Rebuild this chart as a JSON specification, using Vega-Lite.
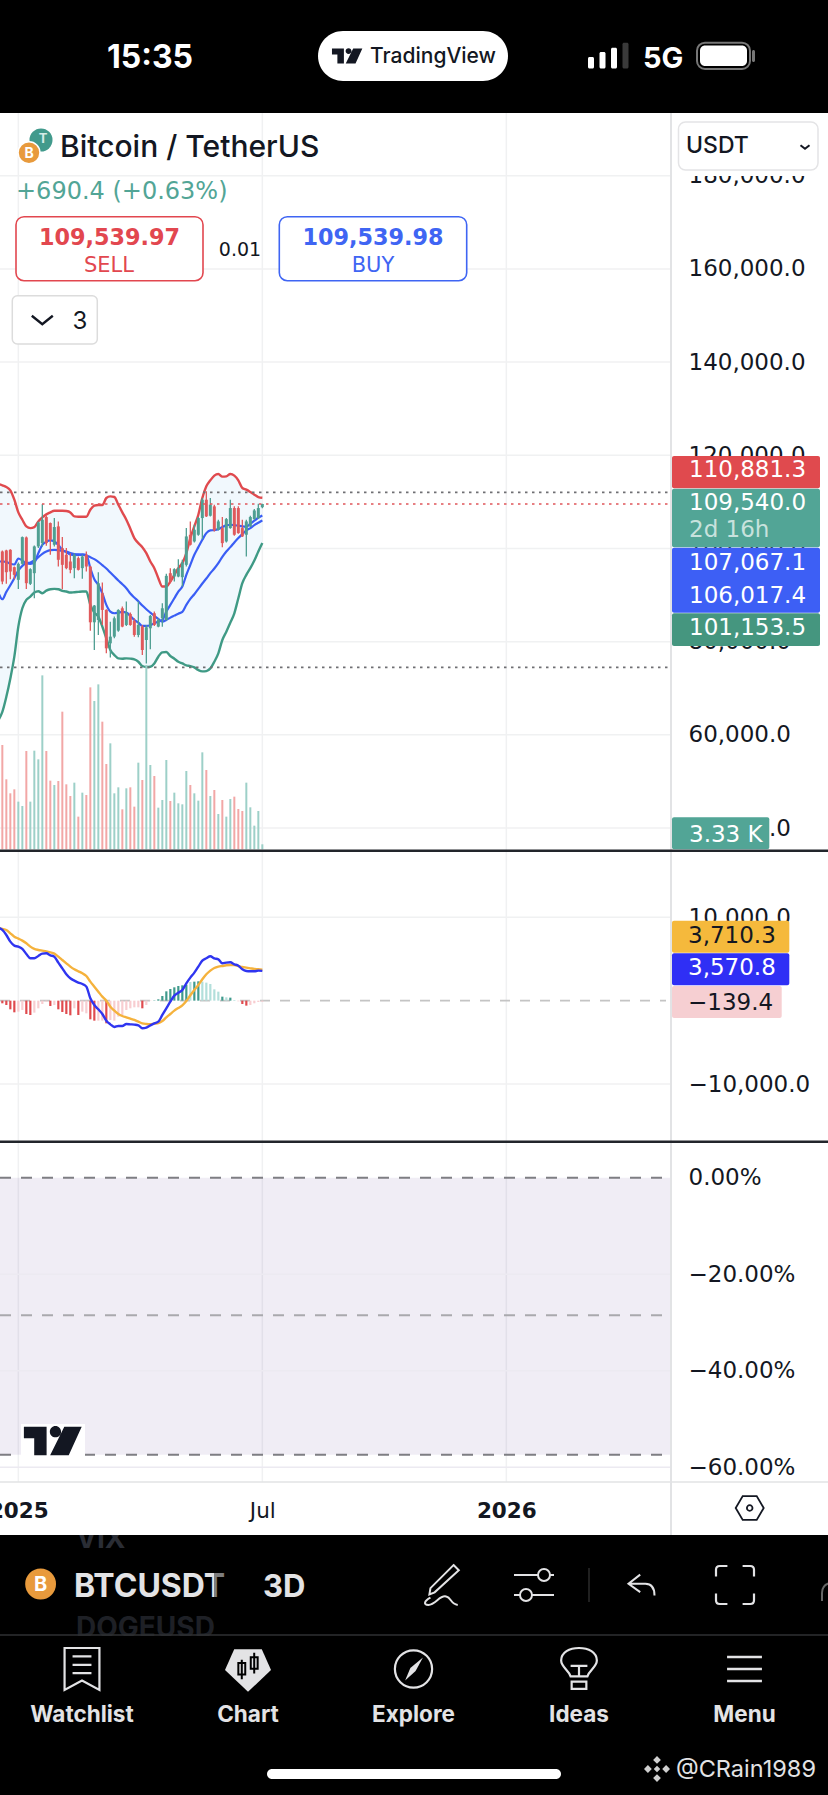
{"$schema":"https://vega.github.io/schema/vega-lite/v6.json","width":828,"height":1795,"padding":0,"autosize":{"type":"none"},"background":"#ffffff",
"config":{"view":{"stroke":null},"axis":{"disable":true},"text":{"baseline":"alphabetic","font":"Inter"}},
"data":{"values":[{}]},
"datasets":{
"bars":[
{"d":"2024-12-17","u":113830,"w":63140,"a":97200,"b":90500,"m":8760,"s":8680},
{"d":"2024-12-20","o":99350,"h":99570,"l":92320,"c":92900,"dir":"down","v":69490,"u":113550,"w":64930,"a":97200,"b":89100,"m":8480,"s":8600,"hist":-320,"tone":"dr"},
{"d":"2024-12-23","o":99570,"h":99710,"l":92400,"c":94900,"dir":"down","v":46620,"u":113190,"w":68160,"a":97130,"b":90670,"m":7880,"s":8480,"hist":-520,"tone":"dr"},
{"d":"2024-12-26","o":99710,"h":99850,"l":93400,"c":95050,"dir":"down","v":37300,"u":112470,"w":72100,"a":96700,"b":92110,"m":7080,"s":8080,"hist":-1040,"tone":"dr"},
{"d":"2024-12-29","o":95980,"h":96120,"l":93400,"c":94330,"dir":"down","v":39960,"u":110460,"w":76770,"a":96550,"b":93620,"m":6600,"s":7680,"hist":-1400,"tone":"dr"},
{"d":"2025-01-01","o":93260,"h":96980,"l":91320,"c":96700,"dir":"up","v":31750,"u":107740,"w":83220,"a":97840,"b":95260,"m":6480,"s":7440,"hist":-1320,"tone":"lr"},
{"d":"2025-01-04","o":96700,"h":102580,"l":96480,"c":102430,"dir":"up","v":28860,"u":106160,"w":87160,"a":97410,"b":96270,"m":6200,"s":7200,"hist":-1120,"tone":"lr"},
{"d":"2025-01-07","o":102360,"h":102580,"l":91320,"c":92540,"dir":"down","v":65490,"u":104730,"w":88950,"a":96770,"b":96840,"m":5600,"s":6880,"hist":-1600,"tone":"dr"},
{"d":"2025-01-10","o":92400,"h":95770,"l":92180,"c":95550,"dir":"up","v":31750,"u":104370,"w":89670,"a":96700,"b":96980,"m":5080,"s":6480,"hist":-1720,"tone":"dr"},
{"d":"2025-01-13","o":94690,"h":100640,"l":89310,"c":100430,"dir":"up","v":65710,"u":104590,"w":90530,"a":96980,"b":97410,"m":5080,"s":6200,"hist":-1440,"tone":"lr"},
{"d":"2025-01-16","o":100430,"h":105800,"l":100070,"c":105590,"dir":"up","v":59940,"u":105800,"w":90820,"a":98990,"b":98130,"m":5360,"s":6080,"hist":-920,"tone":"lr"},
{"d":"2025-01-19","o":101140,"h":109530,"l":100430,"c":106160,"dir":"up","v":115880,"u":106660,"w":90390,"a":100780,"b":98850,"m":5640,"s":6000,"hist":-400,"tone":"lr"},
{"d":"2025-01-22","o":106740,"h":107020,"l":100570,"c":101140,"dir":"down","v":65490,"u":107310,"w":90960,"a":101430,"b":99350,"m":5680,"s":5920,"hist":-120,"tone":"lr"},
{"d":"2025-01-25","o":105450,"h":105590,"l":98630,"c":101860,"dir":"down","v":45730,"u":107740,"w":91250,"a":101720,"b":99640,"m":5440,"s":5800,"hist":-640,"tone":"dr"},
{"d":"2025-01-28","o":100790,"h":106520,"l":100430,"c":104590,"dir":"up","v":42850,"u":108100,"w":91320,"a":101500,"b":99710,"m":5280,"s":5640,"hist":-520,"tone":"lr"},
{"d":"2025-01-31","o":104730,"h":105800,"l":96120,"c":97560,"dir":"down","v":45510,"u":108100,"w":91250,"a":100710,"b":99640,"m":4560,"s":5280,"hist":-1040,"tone":"dr"},
{"d":"2025-02-03","o":100070,"h":102430,"l":91250,"c":96480,"dir":"down","v":91690,"u":108100,"w":90890,"a":99710,"b":99490,"m":3880,"s":4880,"hist":-1360,"tone":"dr"},
{"d":"2025-02-06","o":98630,"h":100070,"l":95550,"c":95770,"dir":"down","v":43290,"u":108030,"w":90750,"a":99210,"b":99350,"m":3160,"s":4480,"hist":-1600,"tone":"dr"},
{"d":"2025-02-09","o":97200,"h":98990,"l":94690,"c":95410,"dir":"down","v":35520,"u":107740,"w":90530,"a":98710,"b":98990,"m":2680,"s":4080,"hist":-1760,"tone":"dr"},
{"d":"2025-02-12","o":95770,"h":98990,"l":93620,"c":98630,"dir":"up","v":44400,"u":106880,"w":90600,"a":98560,"b":98780,"m":2400,"s":3760,"hist":-920,"tone":"lr"},
{"d":"2025-02-15","o":97920,"h":98280,"l":95260,"c":95410,"dir":"down","v":21760,"u":106810,"w":90670,"a":98630,"b":98710,"m":2160,"s":3520,"hist":-1720,"tone":"dr"},
{"d":"2025-02-18","o":95770,"h":98630,"l":93470,"c":98280,"dir":"up","v":37740,"u":106810,"w":90750,"a":98710,"b":98630,"m":2000,"s":3280,"hist":-1320,"tone":"lr"},
{"d":"2025-02-21","o":98630,"h":99350,"l":95050,"c":96120,"dir":"down","v":36190,"u":106810,"w":90750,"a":98630,"b":98490,"m":1680,"s":2960,"hist":-1520,"tone":"lr"},
{"d":"2025-02-24","o":96120,"h":96270,"l":82360,"c":84150,"dir":"down","v":107890,"u":108310,"w":87880,"a":95770,"b":98130,"m":280,"s":2280,"hist":-2240,"tone":"dr"},
{"d":"2025-02-27","o":84150,"h":87880,"l":78200,"c":87740,"dir":"up","v":98790,"u":109170,"w":86230,"a":93400,"b":97700,"m":-520,"s":1680,"hist":-2400,"tone":"dr"},
{"d":"2025-03-02","o":84650,"h":94900,"l":81430,"c":92540,"dir":"up","v":109890,"u":109320,"w":85370,"a":92180,"b":97130,"m":-1040,"s":1080,"hist":-2400,"tone":"lr"},
{"d":"2025-03-05","o":90390,"h":92680,"l":83580,"c":86800,"dir":"down","v":85030,"u":109320,"w":83220,"a":90390,"b":96410,"m":-1600,"s":480,"hist":-2400,"tone":"lr"},
{"d":"2025-03-08","o":86800,"h":86950,"l":77480,"c":78560,"dir":"down","v":56830,"u":110820,"w":80710,"a":87880,"b":95690,"m":-2400,"s":0,"hist":-2720,"tone":"dr"},
{"d":"2025-03-11","o":79630,"h":84290,"l":76620,"c":81070,"dir":"up","v":70600,"u":111180,"w":78200,"a":86450,"b":94830,"m":-2840,"s":-720,"hist":-2320,"tone":"lr"},
{"d":"2025-03-14","o":81070,"h":85370,"l":80710,"c":85010,"dir":"up","v":37300,"u":111040,"w":77120,"a":86090,"b":93970,"m":-3160,"s":-1200,"hist":-2400,"tone":"lr"},
{"d":"2025-03-17","o":82360,"h":86950,"l":82140,"c":86800,"dir":"up","v":41290,"u":109390,"w":76410,"a":86230,"b":93110,"m":-3040,"s":-1600,"hist":-1920,"tone":"lr"},
{"d":"2025-03-20","o":87160,"h":87520,"l":83080,"c":83220,"dir":"down","v":26640,"u":107740,"w":76340,"a":86370,"b":92320,"m":-3040,"s":-1840,"hist":-1720,"tone":"lr"},
{"d":"2025-03-23","o":83580,"h":88600,"l":83360,"c":86230,"dir":"up","v":40630,"u":106160,"w":76410,"a":86230,"b":91460,"m":-2800,"s":-2000,"hist":-1120,"tone":"lr"},
{"d":"2025-03-26","o":85940,"h":86230,"l":83430,"c":83580,"dir":"down","v":41290,"u":104230,"w":76340,"a":85510,"b":90320,"m":-2840,"s":-2160,"hist":-920,"tone":"lr"},
{"d":"2025-03-29","o":84440,"h":85010,"l":81070,"c":81430,"dir":"down","v":28420,"u":102220,"w":76190,"a":84650,"b":89460,"m":-2880,"s":-2320,"hist":-800,"tone":"lr"},
{"d":"2025-04-01","o":81430,"h":88600,"l":80920,"c":83580,"dir":"up","v":57720,"u":101140,"w":75690,"a":84080,"b":88670,"m":-2960,"s":-2520,"hist":-800,"tone":"lr"},
{"d":"2025-04-04","o":83220,"h":83580,"l":77120,"c":78200,"dir":"down","v":46180,"u":100280,"w":74760,"a":83360,"b":87740,"m":-3320,"s":-2720,"hist":-920,"tone":"dr"},
{"d":"2025-04-07","o":80350,"h":83580,"l":75330,"c":83080,"dir":"up","v":122770,"u":98990,"w":74540,"a":83360,"b":86950,"m":-3240,"s":-2800,"hist":-520,"tone":"lr"},
{"d":"2025-04-10","o":82860,"h":85730,"l":78340,"c":85510,"dir":"up","v":56170,"u":97200,"w":74610,"a":83510,"b":86230,"m":-2960,"s":-2840,"hist":-40,"tone":"lr"},
{"d":"2025-04-13","o":86090,"h":86450,"l":83360,"c":83580,"dir":"down","v":48840,"u":95770,"w":75330,"a":83940,"b":85510,"m":-2720,"s":-2760,"hist":40,"tone":"dg"},
{"d":"2025-04-16","o":83220,"h":85010,"l":83080,"c":84650,"dir":"up","v":27750,"u":93620,"w":76770,"a":84290,"b":84870,"m":-2520,"s":-2680,"hist":160,"tone":"dg"},
{"d":"2025-04-19","o":85010,"h":88240,"l":83220,"c":87160,"dir":"up","v":32860,"u":91820,"w":77700,"a":84650,"b":84290,"m":-1720,"s":-2440,"hist":560,"tone":"dg"},
{"d":"2025-04-22","o":84650,"h":94550,"l":84510,"c":94120,"dir":"up","v":59500,"u":91820,"w":77770,"a":86450,"b":84650,"m":-920,"s":-2000,"hist":1120,"tone":"dg"},
{"d":"2025-04-25","o":94690,"h":95770,"l":92540,"c":92900,"dir":"down","v":32190,"u":92900,"w":76910,"a":87880,"b":85150,"m":-120,"s":-1600,"hist":1400,"tone":"dg"},
{"d":"2025-04-28","o":93970,"h":95770,"l":92900,"c":95550,"dir":"up","v":37740,"u":94330,"w":76340,"a":89310,"b":85580,"m":600,"s":-1200,"hist":1600,"tone":"dg"},
{"d":"2025-05-01","o":93970,"h":97700,"l":93830,"c":95770,"dir":"up","v":30640,"u":95770,"w":75690,"a":90750,"b":86010,"m":960,"s":-880,"hist":1760,"tone":"dg"},
{"d":"2025-05-04","o":93830,"h":97560,"l":91820,"c":96980,"dir":"up","v":29970,"u":96840,"w":75330,"a":91820,"b":86370,"m":1280,"s":-560,"hist":1840,"tone":"dg"},
{"d":"2025-05-07","o":96480,"h":104370,"l":96120,"c":102580,"dir":"up","v":52170,"u":98990,"w":74900,"a":94330,"b":87880,"m":2080,"s":-40,"hist":1920,"tone":"dg"},
{"d":"2025-05-10","o":102940,"h":105800,"l":100640,"c":100790,"dir":"down","v":42850,"u":102220,"w":74760,"a":96480,"b":89170,"m":2760,"s":640,"hist":2240,"tone":"lg"},
{"d":"2025-05-13","o":101500,"h":105090,"l":101290,"c":104010,"dir":"up","v":37300,"u":104730,"w":74470,"a":98630,"b":90170,"m":3360,"s":1280,"hist":2280,"tone":"dg"},
{"d":"2025-05-16","o":102940,"h":106740,"l":102720,"c":106520,"dir":"up","v":32410,"u":107240,"w":73900,"a":100280,"b":91320,"m":4080,"s":1880,"hist":2320,"tone":"dg"},
{"d":"2025-05-19","o":106520,"h":110820,"l":102000,"c":110460,"dir":"up","v":64600,"u":110820,"w":73610,"a":101860,"b":92470,"m":4800,"s":2560,"hist":2280,"tone":"lg"},
{"d":"2025-05-22","o":110460,"h":112260,"l":106740,"c":106880,"dir":"down","v":52840,"u":113330,"w":73680,"a":103290,"b":93540,"m":5080,"s":3160,"hist":2160,"tone":"lg"},
{"d":"2025-05-25","o":107020,"h":110820,"l":106880,"c":109390,"dir":"up","v":35520,"u":114620,"w":74260,"a":103870,"b":94690,"m":5320,"s":3600,"hist":2000,"tone":"lg"},
{"d":"2025-05-28","o":109030,"h":109390,"l":103650,"c":103870,"dir":"down","v":39520,"u":115630,"w":75690,"a":103940,"b":95690,"m":5080,"s":3920,"hist":1360,"tone":"lg"},
{"d":"2025-05-31","o":104010,"h":106160,"l":103870,"c":105800,"dir":"up","v":23530,"u":115980,"w":77480,"a":104150,"b":96840,"m":4960,"s":4080,"hist":1080,"tone":"lg"},
{"d":"2025-06-03","o":104370,"h":106740,"l":100280,"c":101140,"dir":"down","v":32860,"u":115410,"w":80350,"a":104590,"b":98200,"m":4480,"s":4160,"hist":480,"tone":"dg"},
{"d":"2025-06-06","o":101500,"h":106520,"l":101290,"c":106300,"dir":"up","v":21760,"u":115480,"w":82140,"a":104940,"b":99350,"m":4560,"s":4240,"hist":400,"tone":"lg"},
{"d":"2025-06-09","o":104370,"h":110460,"l":104230,"c":108670,"dir":"up","v":33520,"u":115980,"w":84080,"a":105090,"b":100280,"m":4600,"s":4280,"hist":360,"tone":"dg"},
{"d":"2025-06-12","o":108670,"h":109030,"l":102720,"c":102940,"dir":"down","v":35080,"u":115630,"w":86090,"a":105020,"b":101290,"m":4360,"s":4280,"hist":80,"tone":"lg"},
{"d":"2025-06-15","o":108670,"h":109030,"l":103150,"c":103290,"dir":"down","v":26860,"u":114620,"w":89310,"a":104870,"b":102220,"m":4200,"s":4160,"hist":-80,"tone":"lr"},
{"d":"2025-06-18","o":104370,"h":106160,"l":102430,"c":102580,"dir":"down","v":25530,"u":112970,"w":92540,"a":104730,"b":103080,"m":3760,"s":4040,"hist":-400,"tone":"dr"},
{"d":"2025-06-21","o":102940,"h":106160,"l":98280,"c":105800,"dir":"up","v":44400,"u":112620,"w":94330,"a":104660,"b":103870,"m":3560,"s":3960,"hist":-600,"tone":"dr"},
{"d":"2025-06-24","o":104730,"h":107020,"l":104590,"c":106740,"dir":"up","v":27970,"u":112110,"w":95770,"a":105300,"b":104370,"m":3520,"s":3880,"hist":-520,"tone":"lr"},
{"d":"2025-06-27","o":106300,"h":108460,"l":106160,"c":108170,"dir":"up","v":15760,"u":111540,"w":97410,"a":105950,"b":105020,"m":3520,"s":3800,"hist":-320,"tone":"lr"},
{"d":"2025-06-30","o":106520,"h":109600,"l":106300,"c":108670,"dir":"up","v":25530,"u":111040,"w":99350,"a":106590,"b":105520,"m":3600,"s":3760,"hist":-160,"tone":"lr"},
{"d":"2025-07-03","o":108850,"h":109600,"l":108600,"c":109540,"dir":"up","v":3330,"u":110881.3,"w":101153.5,"a":107067.1,"b":106017.4,"m":3570.8,"s":3710.3,"hist":-139.4,"tone":"lr"}
],
"priceGrid":[{"p":180000},{"p":160000},{"p":140000},{"p":120000},{"p":100000},{"p":80000},{"p":60000},{"p":40000}],
"macdGrid":[{"p":10000},{"p":-10000}],
"pctGrid":[{"p":-0.2},{"p":-0.4},{"p":-0.6}],
"times":[{"d":"2025-01-01"},{"d":"2025-07-03"},{"d":"2026-01-02"}]
},
"layer":[
{"data":{"name":"times"},"mark":{"type":"rule","stroke":"#f0f1f2","strokeWidth":1.5},"encoding":{"x":{"field":"d","type":"temporal","scale":{"type":"utc","domain":[{"year":2024,"month":12,"date":18,"hours":6,"utc":true},{"year":2026,"month":8,"date":31,"hours":6,"utc":true}]},"axis":{"disable":false,"orient":"bottom","offset":-313,"values":[{"year":2025,"month":1,"date":1,"utc":true},{"year":2025,"month":7,"date":3,"utc":true},{"year":2026,"month":1,"date":2,"utc":true}],"labelExpr":"utcmonth(datum.value)==6?'Jul':utcFormat(datum.value,'%Y')","domain":false,"ticks":false,"tickSize":0,"grid":false,"title":null,"labelFont":"DejaVu Sans","labelFontSize":21.5,"labelColor":"#131722","labelFontWeight":{"expr":"utcmonth(datum.value)==6?400:700"},"labelPadding":35,"labelBaseline":"alphabetic","labelAlign":"center","labelBound":false,"labelFlush":false,"labelOverlap":false}},"y":{"datum":113,"scale":{"domain":[0,1795],"range":[0,1795]}},"y2":{"datum":1482}}},
{"data":{"name":"priceGrid"},"mark":{"type":"rule","stroke":"#f0f1f2","strokeWidth":1.5},"encoding":{"x":{"datum":0,"scale":{"domain":[0,828],"range":[0,828]}},"x2":{"datum":670},"y":{"field":"p","type":"quantitative","scale":{"domain":[40000,180000],"range":[828,175.7],"zero":false},"axis":{"disable":false,"orient":"right","offset":-140,"values":[180000,160000,140000,120000,100000,80000,60000,40000],"format":",.1f","domain":false,"ticks":false,"tickSize":0,"grid":false,"title":null,"labelFont":"DejaVu Sans","labelFontSize":23,"labelColor":"#131722","labelPadding":0,"labelAlign":"left","labelBound":false,"labelFlush":false,"labelOverlap":false}}}},
{"data":{"name":"macdGrid"},"mark":{"type":"rule","stroke":"#f0f1f2","strokeWidth":1.5},"encoding":{"x":{"datum":0,"scale":{"domain":[0,828],"range":[0,828]}},"x2":{"datum":670},"y":{"field":"p","type":"quantitative","scale":{"domain":[-10000,10000],"range":[1084,917.3],"zero":false},"axis":{"disable":false,"orient":"right","offset":-140,"values":[10000,-10000],"format":",.1f","domain":false,"ticks":false,"tickSize":0,"grid":false,"title":null,"labelFont":"DejaVu Sans","labelFontSize":23,"labelColor":"#131722","labelPadding":0,"labelAlign":"left","labelBound":false,"labelFlush":false,"labelOverlap":false}}}},
{"mark":{"type":"rect","fill":"#6a4fa0","opacity":0.1},"data":{"values":[{"top":0,"bottom":-0.574}]},"encoding":{"x":{"datum":0,"scale":{"domain":[0,828],"range":[0,828]}},"x2":{"datum":670},"y":{"field":"top","type":"quantitative","scale":{"domain":[-0.6,0],"range":[1467.3,1177.7],"zero":false}},"y2":{"field":"bottom"}}},
{"data":{"name":"pctGrid"},"mark":{"type":"rule","stroke":"#eceaf1","strokeWidth":1.5},"encoding":{"x":{"datum":0,"scale":{"domain":[0,828],"range":[0,828]}},"x2":{"datum":670},"y":{"field":"p","type":"quantitative","scale":{"domain":[-0.6,0],"range":[1467.3,1177.7],"zero":false},"axis":{"disable":false,"orient":"right","offset":-140,"values":[0,-0.2,-0.4,-0.6],"format":".2%","domain":false,"ticks":false,"tickSize":0,"grid":false,"title":null,"labelFont":"DejaVu Sans","labelFontSize":23,"labelColor":"#131722","labelPadding":0,"labelAlign":"left","labelBound":false,"labelFlush":false,"labelOverlap":false}}}},
{"mark":{"type":"rule","stroke":"#7e7e83","strokeWidth":2,"strokeDash":[11,10]},"data":{"values":[{"p":0},{"p":-0.574}]},"encoding":{"x":{"datum":0,"scale":{"domain":[0,828],"range":[0,828]}},"x2":{"datum":666},"y":{"field":"p","type":"quantitative","scale":{"domain":[-0.6,0],"range":[1467.3,1177.7],"zero":false}}}},
{"mark":{"type":"rule","stroke":"#a9a9ad","strokeWidth":2,"strokeDash":[11,10]},"data":{"values":[{"p":-0.285}]},"encoding":{"x":{"datum":0,"scale":{"domain":[0,828],"range":[0,828]}},"x2":{"datum":666},"y":{"field":"p","type":"quantitative","scale":{"domain":[-0.6,0],"range":[1467.3,1177.7],"zero":false}}}},
{"data":{"name":"bars"},"encoding":{"x":{"field":"d","type":"temporal","scale":{"type":"utc","domain":[{"year":2024,"month":12,"date":18,"hours":6,"utc":true},{"year":2026,"month":8,"date":31,"hours":6,"utc":true}]}}},"layer":[
{"mark":{"type":"area","fill":"#f1f8fd","clip":true,"interpolate":"monotone"},"encoding":{"y":{"field":"u","type":"quantitative","scale":{"domain":[40000,180000],"range":[828,175.7],"zero":false}},"y2":{"field":"w"}}},
{"mark":{"type":"line","stroke":"#e04a4e","strokeWidth":2.4,"clip":true,"interpolate":"monotone"},"encoding":{"y":{"field":"u","type":"quantitative","scale":{"domain":[40000,180000],"range":[828,175.7],"zero":false}}}},
{"mark":{"type":"line","stroke":"#3f9a85","strokeWidth":2.4,"clip":true,"interpolate":"monotone"},"encoding":{"y":{"field":"w","type":"quantitative","scale":{"domain":[40000,180000],"range":[828,175.7],"zero":false}}}},
{"mark":{"type":"line","stroke":"#3a5ef5","strokeWidth":2.2,"clip":true,"interpolate":"monotone"},"encoding":{"y":{"field":"a","type":"quantitative","scale":{"domain":[40000,180000],"range":[828,175.7],"zero":false}}}},
{"mark":{"type":"line","stroke":"#3a5ef5","strokeWidth":2.2,"clip":true,"interpolate":"monotone"},"encoding":{"y":{"field":"b","type":"quantitative","scale":{"domain":[40000,180000],"range":[828,175.7],"zero":false}}}},
{"mark":{"type":"rule","strokeWidth":1.3},"encoding":{"y":{"field":"h","type":"quantitative","scale":{"domain":[40000,180000],"range":[828,175.7],"zero":false}},"y2":{"field":"l"},"color":{"field":"dir","type":"nominal","scale":{"domain":["up","down"],"range":["#4f9f92","#e05a5c"]},"legend":null}}},
{"mark":{"type":"rule","strokeWidth":3},"encoding":{"y":{"field":"o","type":"quantitative","scale":{"domain":[40000,180000],"range":[828,175.7],"zero":false}},"y2":{"field":"c"},"color":{"field":"dir","type":"nominal","scale":{"domain":["up","down"],"range":["#4f9f92","#e05a5c"]},"legend":null}}}
]},
{"mark":{"type":"rule","stroke":"#6f6f73","strokeWidth":1.6,"strokeDash":[2.5,4.5]},"data":{"values":[{"p":112040},{"p":74470}]},"encoding":{"x":{"datum":0,"scale":{"domain":[0,828],"range":[0,828]}},"x2":{"datum":668},"y":{"field":"p","type":"quantitative","scale":{"domain":[40000,180000],"range":[828,175.7],"zero":false}}}},
{"mark":{"type":"rule","stroke":"#e0555a","strokeWidth":1.6,"strokeDash":[2.5,4.5]},"data":{"values":[{"p":109540}]},"encoding":{"x":{"datum":0,"scale":{"domain":[0,828],"range":[0,828]}},"x2":{"datum":668},"y":{"field":"p","type":"quantitative","scale":{"domain":[40000,180000],"range":[828,175.7],"zero":false}}}},
{"data":{"name":"bars"},"mark":{"type":"rule","strokeWidth":2,"clip":true},"encoding":{"x":{"field":"d","type":"temporal","scale":{"type":"utc","domain":[{"year":2024,"month":12,"date":18,"hours":6,"utc":true},{"year":2026,"month":8,"date":31,"hours":6,"utc":true}]}},"y":{"field":"v","type":"quantitative","scale":{"domain":[0,100000],"range":[849.3,699.2],"zero":false}},"y2":{"datum":0},"color":{"field":"dir","type":"nominal","scale":{"domain":["up","down"],"range":["#9dd0c8","#f2a7a6"]},"legend":null}}},
{"mark":{"type":"rule","stroke":"#c4c4c4","strokeWidth":1.6,"strokeDash":[10,10]},"data":{"values":[{"p":0}]},"encoding":{"x":{"datum":0,"scale":{"domain":[0,828],"range":[0,828]}},"x2":{"datum":666},"y":{"field":"p","type":"quantitative","scale":{"domain":[-10000,10000],"range":[1084,917.3],"zero":false}}}},
{"data":{"name":"bars"},"encoding":{"x":{"field":"d","type":"temporal","scale":{"type":"utc","domain":[{"year":2024,"month":12,"date":18,"hours":6,"utc":true},{"year":2026,"month":8,"date":31,"hours":6,"utc":true}]}}},"layer":[
{"mark":{"type":"rule","strokeWidth":2.2},"encoding":{"y":{"field":"hist","type":"quantitative","scale":{"domain":[-10000,10000],"range":[1084,917.3],"zero":false}},"y2":{"datum":0},"color":{"field":"tone","type":"nominal","scale":{"domain":["dr","lr","dg","lg"],"range":["#e04a4e","#f8cdd0","#3f9a8c","#b2dfdb"]},"legend":null}}},
{"mark":{"type":"line","stroke":"#f5b23c","strokeWidth":2.4,"clip":true,"interpolate":"monotone"},"encoding":{"y":{"field":"s","type":"quantitative","scale":{"domain":[-10000,10000],"range":[1084,917.3],"zero":false}}}},
{"mark":{"type":"line","stroke":"#2f35f0","strokeWidth":2.4,"clip":true,"interpolate":"monotone"},"encoding":{"y":{"field":"m","type":"quantitative","scale":{"domain":[-10000,10000],"range":[1084,917.3],"zero":false}}}}
]},
{"layer":[
{"mark":{"type":"rect","fill":"#000000"},"encoding":{"x":{"datum":0,"scale":{"domain":[0,828],"range":[0,828]}},"x2":{"datum":828},"y":{"datum":0,"scale":{"domain":[0,1795],"range":[0,1795]}},"y2":{"datum":113}}},
{"mark":{"type":"rect","fill":"#000000"},"encoding":{"x":{"datum":0,"scale":{"domain":[0,828],"range":[0,828]}},"x2":{"datum":828},"y":{"datum":1535,"scale":{"domain":[0,1795],"range":[0,1795]}},"y2":{"datum":1795}}},
{"mark":{"type":"rect","fill":"#ffffff"},"encoding":{"x":{"datum":673,"scale":{"domain":[0,828],"range":[0,828]}},"x2":{"datum":828},"y":{"datum":165,"scale":{"domain":[0,1795],"range":[0,1795]}},"y2":{"datum":176}}},
{"mark":{"type":"rule","stroke":"#e2e3e5","strokeWidth":2},"encoding":{"x":{"datum":671,"scale":{"domain":[0,828],"range":[0,828]}},"y":{"datum":113,"scale":{"domain":[0,1795],"range":[0,1795]}},"y2":{"datum":1535}}},
{"mark":{"type":"rule","stroke":"#e2e3e5","strokeWidth":1.5},"encoding":{"x":{"datum":0,"scale":{"domain":[0,828],"range":[0,828]}},"x2":{"datum":828},"y":{"datum":1482,"scale":{"domain":[0,1795],"range":[0,1795]}}}},
{"mark":{"type":"rule","stroke":"#22252b","strokeWidth":2.5},"encoding":{"x":{"datum":0,"scale":{"domain":[0,828],"range":[0,828]}},"x2":{"datum":828},"y":{"datum":850.7,"scale":{"domain":[0,1795],"range":[0,1795]}}}},
{"mark":{"type":"rule","stroke":"#22252b","strokeWidth":2.5},"encoding":{"x":{"datum":0,"scale":{"domain":[0,828],"range":[0,828]}},"x2":{"datum":828},"y":{"datum":1141.7,"scale":{"domain":[0,1795],"range":[0,1795]}}}},

{"mark":{"type":"rect","fill":"#e04a4e","cornerRadius":2},"encoding":{"x":{"datum":672,"scale":{"domain":[0,828],"range":[0,828]}},"x2":{"datum":820},"y":{"datum":456,"scale":{"domain":[0,1795],"range":[0,1795]}},"y2":{"datum":488.3}}},
{"mark":{"type":"rect","fill":"#52a596","cornerRadius":2},"encoding":{"x":{"datum":672,"scale":{"domain":[0,828],"range":[0,828]}},"x2":{"datum":820},"y":{"datum":488.7,"scale":{"domain":[0,1795],"range":[0,1795]}},"y2":{"datum":547.3}}},
{"mark":{"type":"rect","fill":"#3d5ff5","cornerRadius":2},"encoding":{"x":{"datum":672,"scale":{"domain":[0,828],"range":[0,828]}},"x2":{"datum":820},"y":{"datum":547.7,"scale":{"domain":[0,1795],"range":[0,1795]}},"y2":{"datum":612.7}}},
{"mark":{"type":"rect","fill":"#45967f","cornerRadius":2},"encoding":{"x":{"datum":672,"scale":{"domain":[0,828],"range":[0,828]}},"x2":{"datum":820},"y":{"datum":613.3,"scale":{"domain":[0,1795],"range":[0,1795]}},"y2":{"datum":646}}},
{"mark":{"type":"rect","fill":"#52a596","cornerRadius":2},"encoding":{"x":{"datum":672,"scale":{"domain":[0,828],"range":[0,828]}},"x2":{"datum":769.3},"y":{"datum":817.3,"scale":{"domain":[0,1795],"range":[0,1795]}},"y2":{"datum":849.3}}},
{"mark":{"type":"rect","fill":"#f5b93c","cornerRadius":2},"encoding":{"x":{"datum":672,"scale":{"domain":[0,828],"range":[0,828]}},"x2":{"datum":789.3},"y":{"datum":920.7,"scale":{"domain":[0,1795],"range":[0,1795]}},"y2":{"datum":952.7}}},
{"mark":{"type":"rect","fill":"#2f2ff5","cornerRadius":2},"encoding":{"x":{"datum":672,"scale":{"domain":[0,828],"range":[0,828]}},"x2":{"datum":789.3},"y":{"datum":953.3,"scale":{"domain":[0,1795],"range":[0,1795]}},"y2":{"datum":985.3}}},
{"mark":{"type":"rect","fill":"#f6cfd2","cornerRadius":2},"encoding":{"x":{"datum":672,"scale":{"domain":[0,828],"range":[0,828]}},"x2":{"datum":781.7},"y":{"datum":986,"scale":{"domain":[0,1795],"range":[0,1795]}},"y2":{"datum":1018}}},

{"mark":{"type":"text","text":"110,881.3","fill":"#ffffff","font":"DejaVu Sans","fontSize":23,"align":"left"},"encoding":{"x":{"datum":689,"scale":{"domain":[0,828],"range":[0,828]}},"y":{"datum":477.3,"scale":{"domain":[0,1795],"range":[0,1795]}}}},
{"mark":{"type":"text","text":"109,540.0","fill":"#ffffff","font":"DejaVu Sans","fontSize":23,"align":"left"},"encoding":{"x":{"datum":689,"scale":{"domain":[0,828],"range":[0,828]}},"y":{"datum":510,"scale":{"domain":[0,1795],"range":[0,1795]}}}},
{"mark":{"type":"text","text":"2d 16h","fill":"#c8e2dd","font":"DejaVu Sans","fontSize":23,"align":"left"},"encoding":{"x":{"datum":689,"scale":{"domain":[0,828],"range":[0,828]}},"y":{"datum":537.3,"scale":{"domain":[0,1795],"range":[0,1795]}}}},
{"mark":{"type":"text","text":"107,067.1","fill":"#ffffff","font":"DejaVu Sans","fontSize":23,"align":"left"},"encoding":{"x":{"datum":689,"scale":{"domain":[0,828],"range":[0,828]}},"y":{"datum":570,"scale":{"domain":[0,1795],"range":[0,1795]}}}},
{"mark":{"type":"text","text":"106,017.4","fill":"#ffffff","font":"DejaVu Sans","fontSize":23,"align":"left"},"encoding":{"x":{"datum":689,"scale":{"domain":[0,828],"range":[0,828]}},"y":{"datum":602.7,"scale":{"domain":[0,1795],"range":[0,1795]}}}},
{"mark":{"type":"text","text":"101,153.5","fill":"#ffffff","font":"DejaVu Sans","fontSize":23,"align":"left"},"encoding":{"x":{"datum":689,"scale":{"domain":[0,828],"range":[0,828]}},"y":{"datum":635,"scale":{"domain":[0,1795],"range":[0,1795]}}}},
{"mark":{"type":"text","text":"3.33 K","fill":"#ffffff","font":"DejaVu Sans","fontSize":23,"align":"left"},"encoding":{"x":{"datum":689,"scale":{"domain":[0,828],"range":[0,828]}},"y":{"datum":841.7,"scale":{"domain":[0,1795],"range":[0,1795]}}}},
{"mark":{"type":"text","text":"3,710.3","fill":"#131722","font":"DejaVu Sans","fontSize":23,"align":"left"},"encoding":{"x":{"datum":688,"scale":{"domain":[0,828],"range":[0,828]}},"y":{"datum":942.7,"scale":{"domain":[0,1795],"range":[0,1795]}}}},
{"mark":{"type":"text","text":"3,570.8","fill":"#ffffff","font":"DejaVu Sans","fontSize":23,"align":"left"},"encoding":{"x":{"datum":688,"scale":{"domain":[0,828],"range":[0,828]}},"y":{"datum":975,"scale":{"domain":[0,1795],"range":[0,1795]}}}},
{"mark":{"type":"text","text":"−139.4","fill":"#131722","font":"DejaVu Sans","fontSize":23,"align":"left"},"encoding":{"x":{"datum":688,"scale":{"domain":[0,828],"range":[0,828]}},"y":{"datum":1010,"scale":{"domain":[0,1795],"range":[0,1795]}}}},

{"mark":{"type":"rect","fill":"#ffffff","stroke":"#e4e4e6","strokeWidth":1.5,"cornerRadius":7},"encoding":{"x":{"datum":678.5,"scale":{"domain":[0,828],"range":[0,828]}},"x2":{"datum":818},"y":{"datum":122,"scale":{"domain":[0,1795],"range":[0,1795]}},"y2":{"datum":170}}},
{"mark":{"type":"text","text":"USDT","fill":"#131722","fontSize":23,"fontWeight":500,"align":"left"},"encoding":{"x":{"datum":686,"scale":{"domain":[0,828],"range":[0,828]}},"y":{"datum":153,"scale":{"domain":[0,1795],"range":[0,1795]}}}},
{"mark":{"type":"point","shape":"M-1,-.4L0,.4L1,-.4","size":81,"filled":false,"stroke":"#131722","strokeWidth":2,"opacity":1},"encoding":{"x":{"datum":805,"scale":{"domain":[0,828],"range":[0,828]}},"y":{"datum":147,"scale":{"domain":[0,1795],"range":[0,1795]}}}},
{"mark":{"type":"point","shape":"circle","size":530,"filled":true,"fill":"#419a8c","opacity":1},"encoding":{"x":{"datum":41,"scale":{"domain":[0,828],"range":[0,828]}},"y":{"datum":140,"scale":{"domain":[0,1795],"range":[0,1795]}}}},
{"mark":{"type":"text","text":"T","fill":"#d5ece7","fontSize":13,"fontWeight":700,"align":"center"},"encoding":{"x":{"datum":43,"scale":{"domain":[0,828],"range":[0,828]}},"y":{"datum":143,"scale":{"domain":[0,1795],"range":[0,1795]}}}},
{"mark":{"type":"point","shape":"circle","size":480,"filled":true,"fill":"#e89a3c","stroke":"#ffffff","strokeWidth":1.5,"opacity":1},"encoding":{"x":{"datum":29,"scale":{"domain":[0,828],"range":[0,828]}},"y":{"datum":152.7,"scale":{"domain":[0,1795],"range":[0,1795]}}}},
{"mark":{"type":"text","text":"B","fill":"#ffffff","fontSize":14,"fontWeight":700,"align":"center"},"encoding":{"x":{"datum":29,"scale":{"domain":[0,828],"range":[0,828]}},"y":{"datum":158,"scale":{"domain":[0,1795],"range":[0,1795]}}}},
{"mark":{"type":"text","text":"Bitcoin / TetherUS","fill":"#131722","fontSize":30,"fontWeight":500,"align":"left"},"encoding":{"x":{"datum":60,"scale":{"domain":[0,828],"range":[0,828]}},"y":{"datum":157,"scale":{"domain":[0,1795],"range":[0,1795]}}}},
{"mark":{"type":"text","text":"+690.4 (+0.63%)","fill":"#52a596","font":"DejaVu Sans","fontSize":24,"align":"left"},"encoding":{"x":{"datum":16,"scale":{"domain":[0,828],"range":[0,828]}},"y":{"datum":199,"scale":{"domain":[0,1795],"range":[0,1795]}}}},
{"mark":{"type":"rect","fill":"#ffffff","stroke":"#e2474f","strokeWidth":1.6,"cornerRadius":8},"encoding":{"x":{"datum":16,"scale":{"domain":[0,828],"range":[0,828]}},"x2":{"datum":203},"y":{"datum":216.7,"scale":{"domain":[0,1795],"range":[0,1795]}},"y2":{"datum":280.7}}},
{"mark":{"type":"rect","fill":"#ffffff","stroke":"#3f65f3","strokeWidth":1.6,"cornerRadius":8},"encoding":{"x":{"datum":279.3,"scale":{"domain":[0,828],"range":[0,828]}},"x2":{"datum":466.7},"y":{"datum":216.7,"scale":{"domain":[0,1795],"range":[0,1795]}},"y2":{"datum":280.7}}},
{"mark":{"type":"text","text":"109,539.97","fill":"#e2474f","font":"DejaVu Sans","fontSize":22.3,"fontWeight":700,"align":"center"},"encoding":{"x":{"datum":109.5,"scale":{"domain":[0,828],"range":[0,828]}},"y":{"datum":245,"scale":{"domain":[0,1795],"range":[0,1795]}}}},
{"mark":{"type":"text","text":"SELL","fill":"#e2474f","font":"DejaVu Sans","fontSize":21,"align":"center"},"encoding":{"x":{"datum":109,"scale":{"domain":[0,828],"range":[0,828]}},"y":{"datum":271.7,"scale":{"domain":[0,1795],"range":[0,1795]}}}},
{"mark":{"type":"text","text":"0.01","fill":"#131722","font":"DejaVu Sans","fontSize":19,"align":"center"},"encoding":{"x":{"datum":240,"scale":{"domain":[0,828],"range":[0,828]}},"y":{"datum":256,"scale":{"domain":[0,1795],"range":[0,1795]}}}},
{"mark":{"type":"text","text":"109,539.98","fill":"#3f65f3","font":"DejaVu Sans","fontSize":22.3,"fontWeight":700,"align":"center"},"encoding":{"x":{"datum":373,"scale":{"domain":[0,828],"range":[0,828]}},"y":{"datum":245,"scale":{"domain":[0,1795],"range":[0,1795]}}}},
{"mark":{"type":"text","text":"BUY","fill":"#3f65f3","font":"DejaVu Sans","fontSize":21,"align":"center"},"encoding":{"x":{"datum":373,"scale":{"domain":[0,828],"range":[0,828]}},"y":{"datum":271.7,"scale":{"domain":[0,1795],"range":[0,1795]}}}},
{"mark":{"type":"rect","fill":"#ffffff","stroke":"#dcdcdc","strokeWidth":1.5,"cornerRadius":5},"encoding":{"x":{"datum":12.3,"scale":{"domain":[0,828],"range":[0,828]}},"x2":{"datum":97.3},"y":{"datum":295.7,"scale":{"domain":[0,1795],"range":[0,1795]}},"y2":{"datum":344}}},
{"mark":{"type":"point","shape":"M-1,-.4L0,.4L1,-.4","size":441,"filled":false,"stroke":"#131722","strokeWidth":2.4,"opacity":1},"encoding":{"x":{"datum":42.3,"scale":{"domain":[0,828],"range":[0,828]}},"y":{"datum":320,"scale":{"domain":[0,1795],"range":[0,1795]}}}},
{"mark":{"type":"text","text":"3","fill":"#131722","fontSize":24,"align":"center"},"encoding":{"x":{"datum":80,"scale":{"domain":[0,828],"range":[0,828]}},"y":{"datum":329,"scale":{"domain":[0,1795],"range":[0,1795]}}}},

{"mark":{"type":"rect","fill":"#ffffff"},"encoding":{"x":{"datum":21,"scale":{"domain":[0,828],"range":[0,828]}},"x2":{"datum":85},"y":{"datum":1424,"scale":{"domain":[0,1795],"range":[0,1795]}},"y2":{"datum":1456}}},
{"mark":{"type":"point","shape":"M-.97,-.48L-.2,-.48L-.2,.48L-.62,.48L-.62,-.09L-.97,-.09ZM-.09,-.315a.19,.19 0 1 0 .38,0a.19,.19 0 1 0 -.38,0ZM.4,-.48L.99,-.48L.55,.48L-.08,.48Z","size":3481,"filled":true,"fill":"#131722","opacity":1},"encoding":{"x":{"datum":52.5,"scale":{"domain":[0,828],"range":[0,828]}},"y":{"datum":1441,"scale":{"domain":[0,1795],"range":[0,1795]}}}},
{"mark":{"type":"point","shape":"M-.5,-.85H.5L1,0L.5,.85H-.5L-1,0ZM-.2,0a.2,.2 0 1 0 .4,0a.2,.2 0 1 0 -.4,0Z","size":784,"filled":false,"stroke":"#131722","strokeWidth":1.8,"opacity":1},"encoding":{"x":{"datum":749.7,"scale":{"domain":[0,828],"range":[0,828]}},"y":{"datum":1508,"scale":{"domain":[0,1795],"range":[0,1795]}}}},

{"mark":{"type":"text","text":"15:35","fill":"#ffffff","fontSize":32,"fontWeight":700,"align":"left"},"encoding":{"x":{"datum":107,"scale":{"domain":[0,828],"range":[0,828]}},"y":{"datum":68,"scale":{"domain":[0,1795],"range":[0,1795]}}}},
{"mark":{"type":"rect","fill":"#ffffff","cornerRadius":25},"encoding":{"x":{"datum":318,"scale":{"domain":[0,828],"range":[0,828]}},"x2":{"datum":508},"y":{"datum":31,"scale":{"domain":[0,1795],"range":[0,1795]}},"y2":{"datum":81}}},
{"mark":{"type":"point","shape":"M-.97,-.48L-.2,-.48L-.2,.48L-.62,.48L-.62,-.09L-.97,-.09ZM-.09,-.315a.19,.19 0 1 0 .38,0a.19,.19 0 1 0 -.38,0ZM.4,-.48L.99,-.48L.55,.48L-.08,.48Z","size":961,"filled":true,"fill":"#131722","opacity":1},"encoding":{"x":{"datum":347,"scale":{"domain":[0,828],"range":[0,828]}},"y":{"datum":56,"scale":{"domain":[0,1795],"range":[0,1795]}}}},
{"mark":{"type":"text","text":"TradingView","fill":"#131722","fontSize":21,"fontWeight":500,"align":"left"},"encoding":{"x":{"datum":370,"scale":{"domain":[0,828],"range":[0,828]}},"y":{"datum":63,"scale":{"domain":[0,1795],"range":[0,1795]}}}},
{"mark":{"type":"rect","fill":"#ffffff","cornerRadius":1.5},"encoding":{"x":{"datum":588,"scale":{"domain":[0,828],"range":[0,828]}},"x2":{"datum":594},"y":{"datum":57,"scale":{"domain":[0,1795],"range":[0,1795]}},"y2":{"datum":68.5}}},
{"mark":{"type":"rect","fill":"#ffffff","cornerRadius":1.5},"encoding":{"x":{"datum":599.5,"scale":{"domain":[0,828],"range":[0,828]}},"x2":{"datum":605.5},"y":{"datum":52,"scale":{"domain":[0,1795],"range":[0,1795]}},"y2":{"datum":68.5}}},
{"mark":{"type":"rect","fill":"#ffffff","cornerRadius":1.5},"encoding":{"x":{"datum":611,"scale":{"domain":[0,828],"range":[0,828]}},"x2":{"datum":617},"y":{"datum":47.7,"scale":{"domain":[0,1795],"range":[0,1795]}},"y2":{"datum":68.5}}},
{"mark":{"type":"rect","fill":"#3a3a3a","cornerRadius":1.5},"encoding":{"x":{"datum":622.5,"scale":{"domain":[0,828],"range":[0,828]}},"x2":{"datum":628.5},"y":{"datum":42.7,"scale":{"domain":[0,1795],"range":[0,1795]}},"y2":{"datum":68.5}}},
{"mark":{"type":"text","text":"5G","fill":"#ffffff","fontSize":29,"fontWeight":700,"align":"left"},"encoding":{"x":{"datum":643,"scale":{"domain":[0,828],"range":[0,828]}},"y":{"datum":68,"scale":{"domain":[0,1795],"range":[0,1795]}}}},
{"mark":{"type":"rect","fill":"#000000","stroke":"#777777","strokeWidth":2,"cornerRadius":8},"encoding":{"x":{"datum":697,"scale":{"domain":[0,828],"range":[0,828]}},"x2":{"datum":750},"y":{"datum":42.7,"scale":{"domain":[0,1795],"range":[0,1795]}},"y2":{"datum":69}}},
{"mark":{"type":"rect","fill":"#ffffff","cornerRadius":5},"encoding":{"x":{"datum":700,"scale":{"domain":[0,828],"range":[0,828]}},"x2":{"datum":747},"y":{"datum":45.5,"scale":{"domain":[0,1795],"range":[0,1795]}},"y2":{"datum":66}}},
{"mark":{"type":"rect","fill":"#777777","cornerRadius":1.5},"encoding":{"x":{"datum":752,"scale":{"domain":[0,828],"range":[0,828]}},"x2":{"datum":755},"y":{"datum":50,"scale":{"domain":[0,1795],"range":[0,1795]}},"y2":{"datum":62}}},

{"mark":{"type":"text","text":"VIX","fill":"#2a2d35","fontSize":28,"fontWeight":700,"align":"left"},"encoding":{"x":{"datum":76,"scale":{"domain":[0,828],"range":[0,828]}},"y":{"datum":1548,"scale":{"domain":[0,1795],"range":[0,1795]}}}},
{"mark":{"type":"rect","fill":"#ffffff"},"encoding":{"x":{"datum":70,"scale":{"domain":[0,828],"range":[0,828]}},"x2":{"datum":135},"y":{"datum":1522,"scale":{"domain":[0,1795],"range":[0,1795]}},"y2":{"datum":1535}}},
{"mark":{"type":"text","text":"DOGEUSD","fill":"#1e2026","fontSize":28,"fontWeight":700,"align":"left"},"encoding":{"x":{"datum":76,"scale":{"domain":[0,828],"range":[0,828]}},"y":{"datum":1637,"scale":{"domain":[0,1795],"range":[0,1795]}}}},
{"mark":{"type":"rule","stroke":"#2f3033","strokeWidth":1.5},"encoding":{"x":{"datum":0,"scale":{"domain":[0,828],"range":[0,828]}},"x2":{"datum":828},"y":{"datum":1635,"scale":{"domain":[0,1795],"range":[0,1795]}}}},
{"mark":{"type":"rect","fill":"#000000"},"encoding":{"x":{"datum":0,"scale":{"domain":[0,828],"range":[0,828]}},"x2":{"datum":828},"y":{"datum":1636,"scale":{"domain":[0,1795],"range":[0,1795]}},"y2":{"datum":1645}}},
{"mark":{"type":"point","shape":"circle","size":951,"filled":true,"fill":"#e89a3c","opacity":1},"encoding":{"x":{"datum":40.6,"scale":{"domain":[0,828],"range":[0,828]}},"y":{"datum":1584,"scale":{"domain":[0,1795],"range":[0,1795]}}}},
{"mark":{"type":"text","text":"B","fill":"#ffffff","fontSize":20,"fontWeight":700,"align":"center"},"encoding":{"x":{"datum":40.6,"scale":{"domain":[0,828],"range":[0,828]}},"y":{"datum":1591,"scale":{"domain":[0,1795],"range":[0,1795]}}}},
{"mark":{"type":"text","text":"BTCUSDT","fill":"#e3e3e5","fontSize":32,"fontWeight":700,"align":"left"},"encoding":{"x":{"datum":74,"scale":{"domain":[0,828],"range":[0,828]}},"y":{"datum":1597,"scale":{"domain":[0,1795],"range":[0,1795]}}}},
{"mark":{"type":"rect","fill":"#000000","opacity":0.45},"encoding":{"x":{"datum":214,"scale":{"domain":[0,828],"range":[0,828]}},"x2":{"datum":232},"y":{"datum":1570,"scale":{"domain":[0,1795],"range":[0,1795]}},"y2":{"datum":1602}}},
{"mark":{"type":"text","text":"3D","fill":"#e3e3e5","fontSize":31,"fontWeight":700,"align":"left"},"encoding":{"x":{"datum":263,"scale":{"domain":[0,828],"range":[0,828]}},"y":{"datum":1597,"scale":{"domain":[0,1795],"range":[0,1795]}}}},
{"mark":{"type":"point","shape":"M.55,-.95L.8,-.7L-.35,.35L-.6,.45L-.55,.15ZM-.55,.6C-.85,.75-.9,.95-.65,.95C-.3,.95-.1,.45.2,.55C.45,.6.4,.9.75,.95","size":1764,"filled":false,"stroke":"#e3e3e5","strokeWidth":2,"opacity":1},"encoding":{"x":{"datum":442,"scale":{"domain":[0,828],"range":[0,828]}},"y":{"datum":1585,"scale":{"domain":[0,1795],"range":[0,1795]}}}},
{"mark":{"type":"point","shape":"M-1,-.5H.2M.8,-.5H1M-1,.5H-.7M-.1,.5H1M.8,-.5A.3,.3 0 1 0 .2,-.5A.3,.3 0 1 0 .8,-.5M-.1,.5A.3,.3 0 1 0 -.7,.5A.3,.3 0 1 0 -.1,.5","size":1600,"filled":false,"stroke":"#e3e3e5","strokeWidth":2,"opacity":1},"encoding":{"x":{"datum":534,"scale":{"domain":[0,828],"range":[0,828]}},"y":{"datum":1585,"scale":{"domain":[0,1795],"range":[0,1795]}}}},
{"mark":{"type":"rule","stroke":"#2b2b2b","strokeWidth":1.5},"encoding":{"x":{"datum":589,"scale":{"domain":[0,828],"range":[0,828]}},"y":{"datum":1568,"scale":{"domain":[0,1795],"range":[0,1795]}},"y2":{"datum":1602}}},
{"mark":{"type":"point","shape":"M-.1,-.8L-1,-.1L-.1,.55M-1,-.1L.3,-.1C.8,-.1 1,.3 1,.8","size":676,"filled":false,"stroke":"#e3e3e5","strokeWidth":2,"opacity":1},"encoding":{"x":{"datum":641.5,"scale":{"domain":[0,828],"range":[0,828]}},"y":{"datum":1585,"scale":{"domain":[0,1795],"range":[0,1795]}}}},
{"mark":{"type":"point","shape":"M-1,-.45V-.8Q-1,-1 -.8,-1H-.4M.4,-1H.8Q1,-1 1,-.8V-.45M1,.45V.8Q1,1 .8,1H.4M-.4,1H-.8Q-1,1 -1,.8V.45","size":1444,"filled":false,"stroke":"#e3e3e5","strokeWidth":2.2,"opacity":1},"encoding":{"x":{"datum":735,"scale":{"domain":[0,828],"range":[0,828]}},"y":{"datum":1585,"scale":{"domain":[0,1795],"range":[0,1795]}}}},
{"mark":{"type":"point","shape":"M0,1V.2Q0,-.6 .8,-.8","size":400,"filled":false,"stroke":"#666666","strokeWidth":2,"opacity":1},"encoding":{"x":{"datum":822,"scale":{"domain":[0,828],"range":[0,828]}},"y":{"datum":1591,"scale":{"domain":[0,1795],"range":[0,1795]}}}},

{"mark":{"type":"point","shape":"M-.83,-1H.83V1L0,.55L-.83,1ZM-.45,-.6H.45M-.45,-.2H.45M-.45,.2H.45","size":1764,"filled":false,"stroke":"#e3e3e5","strokeWidth":2.2,"opacity":1},"encoding":{"x":{"datum":82,"scale":{"domain":[0,828],"range":[0,828]}},"y":{"datum":1669,"scale":{"domain":[0,1795],"range":[0,1795]}}}},
{"mark":{"type":"point","shape":"M-.6,-.9H.6L1,0L0,.95L-1,0Z","size":2116,"filled":true,"fill":"#e3e3e5","opacity":1},"encoding":{"x":{"datum":248,"scale":{"domain":[0,828],"range":[0,828]}},"y":{"datum":1670,"scale":{"domain":[0,1795],"range":[0,1795]}}}},
{"mark":{"type":"point","shape":"M-.42,-.3H-.12V.2H-.42ZM-.27,-.45V.4M.12,-.55H.42V-.05H.12ZM.27,-.75V.15","size":2116,"filled":false,"stroke":"#000000","strokeWidth":2,"opacity":1},"encoding":{"x":{"datum":248,"scale":{"domain":[0,828],"range":[0,828]}},"y":{"datum":1670,"scale":{"domain":[0,1795],"range":[0,1795]}}}},
{"mark":{"type":"point","shape":"circle","size":1385,"filled":false,"stroke":"#e3e3e5","strokeWidth":2.2,"opacity":1},"encoding":{"x":{"datum":413.5,"scale":{"domain":[0,828],"range":[0,828]}},"y":{"datum":1669,"scale":{"domain":[0,1795],"range":[0,1795]}}}},
{"mark":{"type":"point","shape":"M.45,-.55L.1,.1L-.4,.55L-.15,-.05Z","size":1764,"filled":true,"fill":"#e3e3e5","opacity":1},"encoding":{"x":{"datum":413.5,"scale":{"domain":[0,828],"range":[0,828]}},"y":{"datum":1669,"scale":{"domain":[0,1795],"range":[0,1795]}}}},
{"mark":{"type":"point","shape":"M-.4,.35C-.5,.05 -.85,-.1 -.85,-.4C-.85,-.8 -.45,-1 0,-1C.45,-1 .85,-.8 .85,-.4C.85,-.1 .5,.05 .4,.35ZM-.35,.6H.35V.95H-.35ZM-.4,-.15H.4M0,-.15V.35","size":1764,"filled":false,"stroke":"#e3e3e5","strokeWidth":2.2,"opacity":1},"encoding":{"x":{"datum":579,"scale":{"domain":[0,828],"range":[0,828]}},"y":{"datum":1669,"scale":{"domain":[0,1795],"range":[0,1795]}}}},
{"mark":{"type":"point","shape":"M-.83,-.57H.83M-.83,0H.83M-.83,.57H.83","size":1764,"filled":false,"stroke":"#e3e3e5","strokeWidth":2.5,"opacity":1},"encoding":{"x":{"datum":744.5,"scale":{"domain":[0,828],"range":[0,828]}},"y":{"datum":1669,"scale":{"domain":[0,1795],"range":[0,1795]}}}},
{"mark":{"type":"text","text":"Watchlist","fill":"#e3e3e5","fontSize":22.5,"fontWeight":700,"align":"center"},"encoding":{"x":{"datum":82,"scale":{"domain":[0,828],"range":[0,828]}},"y":{"datum":1722,"scale":{"domain":[0,1795],"range":[0,1795]}}}},
{"mark":{"type":"text","text":"Chart","fill":"#e3e3e5","fontSize":22.5,"fontWeight":700,"align":"center"},"encoding":{"x":{"datum":248,"scale":{"domain":[0,828],"range":[0,828]}},"y":{"datum":1722,"scale":{"domain":[0,1795],"range":[0,1795]}}}},
{"mark":{"type":"text","text":"Explore","fill":"#e3e3e5","fontSize":22.5,"fontWeight":700,"align":"center"},"encoding":{"x":{"datum":413.5,"scale":{"domain":[0,828],"range":[0,828]}},"y":{"datum":1722,"scale":{"domain":[0,1795],"range":[0,1795]}}}},
{"mark":{"type":"text","text":"Ideas","fill":"#e3e3e5","fontSize":22.5,"fontWeight":700,"align":"center"},"encoding":{"x":{"datum":579,"scale":{"domain":[0,828],"range":[0,828]}},"y":{"datum":1722,"scale":{"domain":[0,1795],"range":[0,1795]}}}},
{"mark":{"type":"text","text":"Menu","fill":"#e3e3e5","fontSize":22.5,"fontWeight":700,"align":"center"},"encoding":{"x":{"datum":744.5,"scale":{"domain":[0,828],"range":[0,828]}},"y":{"datum":1722,"scale":{"domain":[0,1795],"range":[0,1795]}}}},
{"mark":{"type":"rect","fill":"#ffffff","cornerRadius":5},"encoding":{"x":{"datum":267,"scale":{"domain":[0,828],"range":[0,828]}},"x2":{"datum":561},"y":{"datum":1769,"scale":{"domain":[0,1795],"range":[0,1795]}},"y2":{"datum":1779}}},
{"mark":{"type":"point","shape":"M0,-1L.3,-.7L0,-.4L-.3,-.7ZM-.7,-.3L-.4,0L-.7,.3L-1,0ZM.7,-.3L1,0L.7,.3L.4,0ZM0,-.25L.25,0L0,.25L-.25,0ZM0,.4L.3,.7L0,1L-.3,.7Z","size":676,"filled":true,"fill":"#cfcfcf","opacity":1},"encoding":{"x":{"datum":657,"scale":{"domain":[0,828],"range":[0,828]}},"y":{"datum":1769,"scale":{"domain":[0,1795],"range":[0,1795]}}}},
{"mark":{"type":"text","text":"@CRain1989","fill":"#e3e3e5","fontSize":23.5,"align":"left"},"encoding":{"x":{"datum":676,"scale":{"domain":[0,828],"range":[0,828]}},"y":{"datum":1777,"scale":{"domain":[0,1795],"range":[0,1795]}}}}
]}
],
"resolve":{"scale":{"x":"independent","y":"independent","color":"independent"},"axis":{"x":"independent","y":"independent"}}
}
